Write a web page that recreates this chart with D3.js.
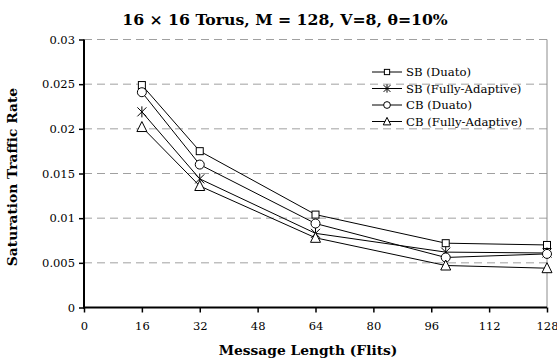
<!DOCTYPE html>
<html>
<head>
<meta charset="utf-8">
<script src="https://cdn.jsdelivr.net/npm/d3@7"></script>
<style>
  body { margin: 0; background: #fff; }
  svg text { font-family: "DejaVu Serif", serif !important; fill: #000; }
</style>
</head>
<body>
<svg id="chart" width="557" height="360"></svg>
<script>
const msgLengths = [16, 32, 64, 100, 128];
const sbDuato = [0.0249, 0.0175, 0.0104, 0.0072, 0.0070];
const sbFully = [0.0219, 0.0144, 0.0083, 0.0062, 0.0061];
const cbDuato = [0.0241, 0.0160, 0.0094, 0.0056, 0.0060];
const cbFully = [0.0202, 0.0136, 0.0078, 0.0047, 0.0044];
const xTicks = [0, 16, 32, 48, 64, 80, 96, 112, 128];
const yTicks = [0, 0.005, 0.01, 0.015, 0.02, 0.025, 0.03];

const series = [
  { name: "SB (Duato)", values: sbDuato, marker: "square" },
  { name: "SB (Fully-Adaptive)", values: sbFully, marker: "star" },
  { name: "CB (Duato)", values: cbDuato, marker: "circle" },
  { name: "CB (Fully-Adaptive)", values: cbFully, marker: "triangle" },
];

const svg = d3.select("#chart");
const margin = { top: 39.5, right: 10, bottom: 52.5, left: 84 },
  width = 557,
  height = 360,
  w = width - margin.left - margin.right,
  h = height - margin.top - margin.bottom;

const g = svg.append("g").attr("transform", `translate(${margin.left},${margin.top})`);
const x = d3.scaleLinear().domain([0, 128]).range([0, w]);
const y = d3.scaleLinear().domain([0, 0.03]).range([h, 0]);

// gridlines
g.selectAll(".grid")
  .data(yTicks.filter((d) => d > 0))
  .enter()
  .append("line")
  .attr("x1", 0)
  .attr("x2", w)
  .attr("y1", (d) => y(d))
  .attr("y2", (d) => y(d))
  .attr("stroke", "#a0a0a0")
  .attr("stroke-dasharray", "8,5");

// right border
g.append("line")
  .attr("x1", w).attr("x2", w)
  .attr("y1", 0).attr("y2", h)
  .attr("stroke", "#8c8c8c");

const yAxis = g.append("g")
  .call(d3.axisLeft(y).tickValues(yTicks).tickSize(5).tickPadding(4).tickFormat((d) => d === 0 ? "0" : String(+d.toFixed(3))));
const xAxis = g.append("g")
  .attr("transform", `translate(0,${h})`)
  .call(d3.axisBottom(x).tickValues(xTicks).tickSize(5).tickPadding(9).tickFormat(d3.format("d")));

[yAxis, xAxis].forEach((a) => {
  a.attr("font-family", "DejaVu Serif").attr("font-size", 11.5);
  a.selectAll(".tick line").attr("stroke-width", 1.5);
  a.select(".domain").remove();
});
g.append("line").attr("x1", 0).attr("x2", 0).attr("y1", 0).attr("y2", h + 1).attr("stroke", "#000").attr("stroke-width", 2);
g.append("line").attr("x1", -1).attr("x2", w).attr("y1", h).attr("y2", h).attr("stroke", "#000").attr("stroke-width", 2);

const line = d3.line()
  .x((d, i) => x(msgLengths[i]))
  .y((d) => y(d));

function drawMarker(sel, type, k = 1) {
  if (type === "square") {
    sel.append("rect").attr("x", -3.5 * k).attr("y", -3.5 * k).attr("width", 7 * k).attr("height", 7 * k)
      .attr("fill", "#fff").attr("stroke", "#000");
  } else if (type === "circle") {
    sel.append("circle").attr("r", 4.5 * k).attr("fill", "#fff").attr("stroke", "#000");
  } else if (type === "triangle") {
    sel.append("path").attr("d", `M0,${-5.5 * k}L${5 * k},${4.5 * k}L${-5 * k},${4.5 * k}Z`).attr("fill", "#fff").attr("stroke", "#000");
  } else if (type === "star") {
    const a = 4.5 * k, b = 5.5 * k;
    sel.append("path").attr("d", `M${-a},${-a}L${a},${a}M${-a},${a}L${a},${-a}M0,${-b}L0,${b}`)
      .attr("stroke", "#000").attr("fill", "none");
  }
}

series.forEach((s) => {
  g.append("path")
    .datum(s.values)
    .attr("fill", "none")
    .attr("stroke", "#000")
    .attr("stroke-width", 1)
    .attr("d", line);
});
series.forEach((s) => {
  s.values.forEach((v, i) => {
    const m = g.append("g").attr("transform", `translate(${x(msgLengths[i])},${y(v)})`);
    drawMarker(m, s.marker);
  });
});

// legend
const legend = svg.append("g").attr("transform", "translate(372,72)");
series.forEach((s, i) => {
  const row = legend.append("g").attr("transform", `translate(0,${i * 16.5})`);
  row.append("line").attr("x1", 0).attr("x2", 30).attr("stroke", "#000");
  const m = row.append("g").attr("transform", "translate(15,0)");
  drawMarker(m, s.marker, 0.75);
  row.append("text")
    .attr("x", 34)
    .attr("y", 4)
    .attr("font-family", "DejaVu Serif")
    .style("font-size", "11.7px")
    .text(s.name);
});

svg.append("text")
  .attr("x", 285)
  .attr("y", 25)
  .attr("text-anchor", "middle")
  .attr("font-family", "DejaVu Serif")
  .style("font-size", "15.7px")
  .style("font-weight", "bold")
  .text("16 × 16 Torus, M = 128, V=8, θ=10%");

svg.append("text")
  .attr("x", 308)
  .attr("y", 355)
  .attr("text-anchor", "middle")
  .attr("font-family", "DejaVu Serif")
  .style("font-size", "13.8px")
  .style("font-weight", "bold")
  .text("Message Length (Flits)");

svg.append("text")
  .attr("transform", "rotate(-90)")
  .attr("x", -177)
  .attr("y", 17)
  .attr("text-anchor", "middle")
  .attr("font-family", "DejaVu Serif")
  .style("font-size", "13.8px")
  .style("font-weight", "bold")
  .text("Saturation Traffic Rate");
</script>
</body>
</html>
